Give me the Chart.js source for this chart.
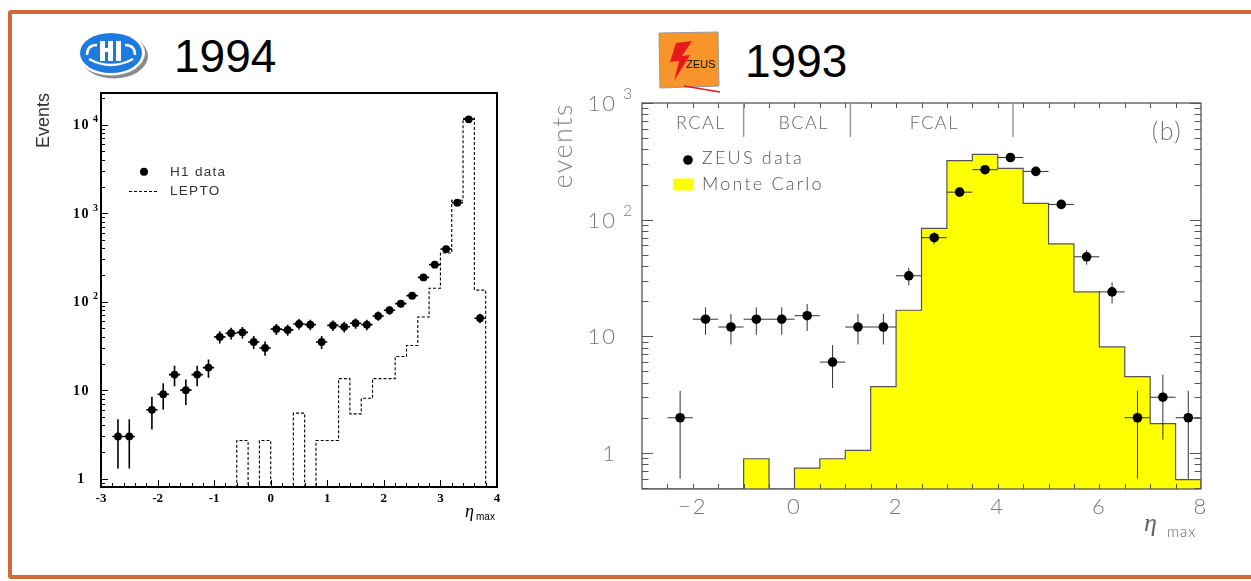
<!DOCTYPE html>
<html>
<head>
<meta charset="utf-8">
<script src="https://cdn.jsdelivr.net/npm/chart.js@4.4.0/dist/chart.umd.min.js"></script>
<style>
  html, body { margin: 0; padding: 0; background: #fff; }
  body { width: 1251px; height: 581px; position: relative; overflow: hidden; font-family: "Liberation Sans", Arial, sans-serif; }
  .frame { position: absolute; left: 8px; top: 10px; width: 1250px; height: 561px; border: 4px solid #d2693a; border-radius: 3px; }
  .year { position: absolute; font-size: 46px; line-height: 46px; color: #000; }
  canvas, svg { position: absolute; }
</style>
</head>
<body>
<div class="frame"></div>

<svg style="left:75px;top:29px" width="74" height="52" viewBox="0 0 74 52">
  <ellipse cx="39" cy="27" rx="34" ry="22.5" fill="#8a8a8a"/>
  <ellipse cx="36" cy="24" rx="34" ry="22.5" fill="#fff"/>
  <ellipse cx="36" cy="24" rx="31" ry="20" fill="#1f7ae0"/>
  <rect x="25" y="12" width="5" height="20" fill="#fff"/>
  <rect x="33" y="12" width="5" height="20" fill="#fff"/>
  <rect x="28" y="19" width="7" height="4" fill="#fff"/>
  <rect x="41" y="12" width="5" height="20" fill="#fff"/>
  <path d="M12 26 q0 -10 10 -10" stroke="#fff" stroke-width="2.5" fill="none"/>
  <path d="M60 26 q0 -10 -10 -10" stroke="#fff" stroke-width="2.5" fill="none"/>
  <path d="M14 30 q22 12 44 0" stroke="#fff" stroke-width="2.5" fill="none"/>
</svg>
<div class="year" style="left:174px;top:33px">1994</div>

<svg style="left:656px;top:29px" width="70" height="66" viewBox="0 0 70 66">
  <polygon points="3,4 62,3 63,57 4,59" fill="#f7952a" stroke="#999" stroke-width="1"/>
  <polygon points="20,14 36,12 26,27 34,26 18,52 23,32 14,33" fill="#e8181b"/>
  <line x1="28" y1="57" x2="64" y2="63" stroke="#e8181b" stroke-width="1.5"/>
  <text x="30" y="39" font-family="Liberation Sans, Arial" font-size="11" fill="#111">ZEUS</text>
</svg>
<div class="year" style="left:745px;top:38px">1993</div>

<canvas id="h1Chart" width="510" height="460" style="left:20px;top:80px;width:510px;height:460px"></canvas>
<canvas id="zeusChart" width="700" height="470" style="left:540px;top:80px;width:700px;height:470px"></canvas>

<script>
// ---- H1 1994 ----
const h1Eta = [-2.7, -2.5, -2.1, -1.9, -1.7, -1.5, -1.3, -1.1, -0.9, -0.7, -0.5, -0.3, -0.1,
  0.1, 0.3, 0.5, 0.7, 0.9, 1.1, 1.3, 1.5, 1.7, 1.9, 2.1, 2.3, 2.5, 2.7, 2.9, 3.1, 3.3, 3.5, 3.7];
const h1Events = [3, 3, 6, 9, 15, 10, 15, 18, 40, 44, 45, 35, 30,
  49, 48, 56, 55, 35, 54, 52, 57, 55, 69, 80, 95, 117, 188, 262, 393, 1315, 11500, 65];
const h1Err = [1.7, 1.7, 2.4, 3.0, 3.9, 3.2, 3.9, 4.2, 6.3, 6.6, 6.7, 5.9, 5.5,
  7.0, 6.9, 7.5, 7.4, 5.9, 7.3, 7.2, 7.5, 7.4, 8.3, 8.9, 9.7, 10.8, 13.7, 16.2, 19.8, 36, 107, 8.1];
const leptoEdges = [-3.0, -2.8, -2.6, -2.4, -2.2, -2.0, -1.8, -1.6, -1.4, -1.2, -1.0, -0.8,
  -0.6, -0.4, -0.2, 0.0, 0.2, 0.4, 0.6, 0.8, 1.0, 1.2, 1.4, 1.6, 1.8, 2.0, 2.2, 2.4,
  2.6, 2.8, 3.0, 3.2, 3.4, 3.6, 3.8, 4.0];
const leptoEvents = [0, 0, 0, 0, 0, 0, 0, 0, 0, 0, 0, 0,
  2.7, 0, 2.7, 0, 0, 5.5, 0, 2.7, 2.7, 13.5, 5.4, 8.1, 13.5, 13.5, 24, 32,
  67, 142, 355, 1400, 11800, 135, 0];
const h1XTicks = [-3, -2, -1, 0, 1, 2, 3, 4];
const h1XLabels = ['-3', '-2', '-1', '0', '1', '2', '3', '4'];
const h1YTicks = [1, 10, 100, 1000, 10000];
const h1YBase = ['1', '10', '10', '10', '10'];
const h1YSup = ['', '', '2', '3', '4'];

// ---- ZEUS 1993 ----
const zeusEta = [-2.25, -1.75, -1.25, -0.75, -0.25, 0.25, 0.75, 1.25, 1.75, 2.25, 2.75,
  3.25, 3.75, 4.25, 4.75, 5.25, 5.75, 6.25, 6.75, 7.25, 7.75];
const zeusEvents = [2, 14, 12, 14, 14, 15, 6, 12, 12, 33, 70, 172, 268, 341, 259, 135, 48, 24, 2, 3, 2];
const zeusErr = [1.4, 3.7, 3.5, 3.7, 3.7, 3.9, 2.4, 3.5, 3.5, 5.7, 8.4, 13.1, 16.4, 18.5, 16.1,
  11.6, 6.9, 4.9, 1.4, 1.7, 1.4];
const mcEdges = [-3.0, -2.5, -2.0, -1.5, -1.0, -0.5, 0.0, 0.5, 1.0, 1.5, 2.0, 2.5, 3.0, 3.5,
  4.0, 4.5, 5.0, 5.5, 6.0, 6.5, 7.0, 7.5, 8.0];
const mcEvents = [0, 0, 0, 0, 0.89, 0, 0.74, 0.89, 1.05, 3.7, 16.7, 84, 320, 362, 275, 138,
  62, 24, 8.1, 4.5, 1.78, 0.59];
const zeusXTicks = [-2, 0, 2, 4, 6, 8];
const zeusXLabels = ['\u22122', '0', '2', '4', '6', '8'];
const zeusYTicks = [1, 10, 100, 1000];
const zeusYBase = ['1', '10', '10', '10'];
const zeusYSup = ['', '', '2', '3'];
const calNames = ['RCAL', 'BCAL', 'FCAL'];

const h1YMin = 0.805, h1YMax = 22800;
const zeusYMin = 0.49, zeusYMax = 1000;

// histogram: one point per left bin edge, empty bins sit on the axis floor
function histPoints(edges, values, floor) {
  return edges.map((e, i) => ({ x: e, y: (values[i] || 0) > 0 ? values[i] : floor }));
}

function logTicks(min, max) {
  const out = [];
  for (let d = Math.floor(Math.log10(min)); d <= Math.ceil(Math.log10(max)); d++) {
    for (let k = 1; k < 10; k++) {
      const v = k * Math.pow(10, d);
      if (v >= min && v <= max) out.push({ v, major: k === 1 });
    }
  }
  return out;
}

function drawErrorBars(chart, eta, events, err, halfWidth, color, width) {
  const { ctx, scales: { x, y }, chartArea: a } = chart;
  ctx.save();
  ctx.beginPath();
  ctx.rect(a.left, a.top, a.right - a.left, a.bottom - a.top);
  ctx.clip();
  ctx.strokeStyle = color;
  ctx.lineWidth = width;
  eta.forEach((e, i) => {
    const px = x.getPixelForValue(e);
    const py = y.getPixelForValue(events[i]);
    ctx.beginPath();
    ctx.moveTo(x.getPixelForValue(e - halfWidth), py);
    ctx.lineTo(x.getPixelForValue(e + halfWidth), py);
    ctx.moveTo(px, y.getPixelForValue(events[i] + err[i]));
    ctx.lineTo(px, y.getPixelForValue(Math.max(events[i] - err[i], y.min)));
    ctx.stroke();
  });
  ctx.restore();
}

const h1Frame = {
  id: 'h1Frame',
  afterDatasetDraw(chart, args) {
    if (args.index === 1) drawErrorBars(chart, h1Eta, h1Events, h1Err, 0.1, '#000', 1.6);
  },
  afterDraw(chart) {
    const { ctx, chartArea: a, scales: { x, y } } = chart;
    ctx.save();
    ctx.strokeStyle = '#000';
    ctx.lineWidth = 1;
    ctx.beginPath();
    logTicks(y.min, y.max).forEach(t => {
      const py = Math.round(y.getPixelForValue(t.v)) + 0.5;
      ctx.moveTo(a.left, py);
      ctx.lineTo(a.left + (t.major ? 7 : 4), py);
    });
    for (let i = 1; i < 35; i++) {
      const px = Math.round(x.getPixelForValue(-3 + i * 0.2)) + 0.5;
      ctx.moveTo(px, a.bottom);
      ctx.lineTo(px, a.bottom - (i % 5 === 0 ? 7 : 4));
    }
    ctx.stroke();
    ctx.lineWidth = 2;
    ctx.strokeRect(a.left, a.top, a.right - a.left, a.bottom - a.top);

    // tick labels
    ctx.fillStyle = '#000';
    ctx.font = 'bold 13px "Liberation Serif", "Times New Roman", serif';
    ctx.textAlign = 'center';
    ctx.textBaseline = 'middle';
    h1XTicks.forEach((v, i) => ctx.fillText(h1XLabels[i], x.getPixelForValue(v), a.bottom + 11.5));
    ctx.letterSpacing = '1.5px';
    h1YTicks.forEach((v, i) => {
      const py = y.getPixelForValue(v);
      const cx = a.left - 19.5;
      ctx.font = 'bold 14px "Liberation Serif", "Times New Roman", serif';
      ctx.textAlign = 'center';
      ctx.fillText(h1YBase[i], cx, py + 1);
      if (h1YSup[i]) {
        ctx.font = 'bold 10px "Liberation Serif", "Times New Roman", serif';
        ctx.textAlign = 'left';
        ctx.fillText(h1YSup[i], cx + 11.5, py - 5);
      }
    });
    ctx.letterSpacing = '0px';

    // axis titles
    ctx.save();
    ctx.translate(a.left - 52.5, a.top);
    ctx.rotate(-Math.PI / 2);
    ctx.font = '18px "Liberation Sans", Arial, sans-serif';
    ctx.fillStyle = '#333';
    ctx.textAlign = 'right';
    ctx.textBaseline = 'alphabetic';
    ctx.fillText('Events', 0, 0);
    ctx.restore();
    ctx.textAlign = 'left';
    ctx.textBaseline = 'alphabetic';
    ctx.fillStyle = '#000';
    ctx.font = 'italic 18px "Liberation Serif", serif';
    ctx.fillText('\u03b7', a.right - 32, a.bottom + 30);
    ctx.font = '10px "Liberation Sans", Arial, sans-serif';
    ctx.fillText('max', a.right - 21, a.bottom + 33);

    // legend
    ctx.fillStyle = '#000';
    ctx.beginPath();
    ctx.arc(a.left + 43, a.top + 78.7, 4, 0, Math.PI * 2);
    ctx.fill();
    ctx.strokeStyle = '#000';
    ctx.lineWidth = 1;
    ctx.setLineDash([3, 2]);
    ctx.beginPath();
    ctx.moveTo(a.left + 28, a.top + 98.5);
    ctx.lineTo(a.left + 57, a.top + 98.5);
    ctx.stroke();
    ctx.setLineDash([]);
    ctx.fillStyle = '#333';
    ctx.font = '13.5px "Liberation Sans", Arial, sans-serif';
    ctx.letterSpacing = '1.3px';
    ctx.textBaseline = 'middle';
    ctx.fillText('H1 data', a.left + 69, a.top + 79);
    ctx.fillText('LEPTO', a.left + 69, a.top + 98.5);
    ctx.letterSpacing = '0px';
    ctx.restore();
  }
};

const zeusFrame = {
  id: 'zeusFrame',
  afterDatasetDraw(chart, args) {
    if (args.index === 1) drawErrorBars(chart, zeusEta, zeusEvents, zeusErr, 0.25, '#333', 1);
  },
  afterDraw(chart) {
    const { ctx, chartArea: a, scales: { x, y } } = chart;
    ctx.save();
    ctx.strokeStyle = '#555';
    ctx.lineWidth = 1;
    ctx.beginPath();
    logTicks(y.min, y.max).forEach(t => {
      const py = Math.round(y.getPixelForValue(t.v)) + 0.5;
      const len = t.major ? 11 : 6.5;
      ctx.moveTo(a.left, py); ctx.lineTo(a.left + len, py);
      ctx.moveTo(a.right, py); ctx.lineTo(a.right - len, py);
    });
    for (let i = 1; i < 22; i++) {
      const px = Math.round(x.getPixelForValue(-3 + i * 0.5)) + 0.5;
      ctx.moveTo(px, a.bottom); ctx.lineTo(px, a.bottom - 5);
      ctx.moveTo(px, a.top); ctx.lineTo(px, a.top + 5);
    }
    ctx.stroke();
    ctx.lineWidth = 1.3;
    ctx.strokeRect(a.left, a.top, a.right - a.left, a.bottom - a.top);

    // calorimeter regions
    ctx.strokeStyle = '#999';
    ctx.lineWidth = 1.5;
    ctx.beginPath();
    [-1.0, 1.1, 4.3].forEach(v => {
      const px = x.getPixelForValue(v);
      ctx.moveTo(px, a.top); ctx.lineTo(px, a.top + 34);
    });
    ctx.stroke();
    ctx.fillStyle = '#666';
    ctx.font = '300 18px Lato, "DejaVu Sans", sans-serif';
    ctx.letterSpacing = '1.5px';
    ctx.textAlign = 'center';
    ctx.textBaseline = 'middle';
    [-1.84, 0.18, 2.75].forEach((v, i) => ctx.fillText(calNames[i], x.getPixelForValue(v), a.top + 20));
    ctx.font = '300 25px Lato, "DejaVu Sans", sans-serif';
    ctx.fillStyle = '#777';
    ctx.fillText('(b)', a.right - 34, a.top + 29);

    // tick labels
    ctx.fillStyle = '#777';
    ctx.font = '300 22px Lato, "DejaVu Sans", sans-serif';
    ctx.letterSpacing = '2px';
    zeusXTicks.forEach((v, i) => ctx.fillText(zeusXLabels[i], x.getPixelForValue(v), a.bottom + 18));
    zeusYTicks.forEach((v, i) => {
      const py = y.getPixelForValue(v);
      ctx.font = '300 22px Lato, "DejaVu Sans", sans-serif';
      ctx.textAlign = 'right';
      ctx.fillText(zeusYBase[i], a.left - 25, py + 1);
      if (zeusYSup[i]) {
        ctx.font = '300 16px Lato, "DejaVu Sans", sans-serif';
        ctx.textAlign = 'left';
        ctx.fillText(zeusYSup[i], a.left - 19, py - 9);
      }
    });

    // axis titles
    ctx.save();
    ctx.translate(a.left - 70.5, a.top);
    ctx.rotate(-Math.PI / 2);
    ctx.font = '300 27px Lato, "DejaVu Sans", sans-serif';
    ctx.letterSpacing = '1.5px';
    ctx.fillStyle = '#888';
    ctx.textAlign = 'right';
    ctx.textBaseline = 'alphabetic';
    ctx.fillText('events', 0, 0);
    ctx.restore();
    ctx.letterSpacing = '0px';
    ctx.textAlign = 'left';
    ctx.textBaseline = 'alphabetic';
    ctx.fillStyle = '#666';
    ctx.font = 'italic 26px "Liberation Serif", serif';
    ctx.fillText('\u03b7', a.right - 57, a.bottom + 42);
    ctx.font = '300 15px Lato, "DejaVu Sans", sans-serif';
    ctx.letterSpacing = '1px';
    ctx.fillText('max', a.right - 34, a.bottom + 48);

    // legend
    ctx.fillStyle = '#000';
    ctx.beginPath();
    ctx.arc(a.left + 46, a.top + 57, 4.8, 0, Math.PI * 2);
    ctx.fill();
    ctx.fillStyle = '#ffff00';
    ctx.fillRect(a.left + 31, a.top + 75.5, 20, 12);
    ctx.fillStyle = '#555';
    ctx.font = '300 18px Lato, "DejaVu Sans", sans-serif';
    ctx.letterSpacing = '2.2px';
    ctx.textBaseline = 'middle';
    ctx.fillText('ZEUS data', a.left + 60, a.top + 55);
    ctx.fillText('Monte Carlo', a.left + 60, a.top + 81.5);
    ctx.letterSpacing = '0px';
    ctx.restore();
  }
};

const baseOptions = (pad, yMin, yMax, xMin, xMax) => ({
  responsive: false,
  animation: false,
  events: [],
  layout: { padding: pad },
  plugins: { legend: { display: false }, tooltip: { enabled: false } },
  scales: {
    x: { type: 'linear', min: xMin, max: xMax, display: false },
    y: { type: 'logarithmic', min: yMin, max: yMax, display: false }
  }
});

new Chart(document.getElementById('h1Chart'), {
  type: 'scatter',
  data: {
    datasets: [{
      label: 'H1 data',
      data: h1Eta.map((e, i) => ({ x: e, y: h1Events[i] })),
      pointRadius: 3.9,
      pointBackgroundColor: '#000',
      pointBorderWidth: 0,
      showLine: false
    }, {
      label: 'LEPTO',
      type: 'line',
      data: histPoints(leptoEdges, leptoEvents, h1YMin),
      stepped: 'before',
      borderColor: '#000',
      borderWidth: 1.1,
      borderDash: [3, 2],
      pointRadius: 0,
      fill: false
    }]
  },
  options: baseOptions({ left: 81, right: 33, top: 13, bottom: 53 }, h1YMin, h1YMax, -3, 4),
  plugins: [h1Frame]
});

new Chart(document.getElementById('zeusChart'), {
  type: 'scatter',
  data: {
    datasets: [{
      label: 'ZEUS data',
      data: zeusEta.map((e, i) => ({ x: e, y: zeusEvents[i] })),
      pointRadius: 4.8,
      pointBackgroundColor: '#000',
      pointBorderWidth: 0,
      showLine: false
    }, {
      label: 'Monte Carlo',
      type: 'line',
      data: histPoints(mcEdges, mcEvents, zeusYMin),
      stepped: 'before',
      borderColor: '#555',
      borderWidth: 1.2,
      backgroundColor: '#ffff00',
      pointRadius: 0,
      fill: 'start'
    }]
  },
  options: baseOptions({ left: 102, right: 39, top: 23, bottom: 61 }, zeusYMin, zeusYMax, -3, 8),
  plugins: [zeusFrame]
});
</script>
</body>
</html>
